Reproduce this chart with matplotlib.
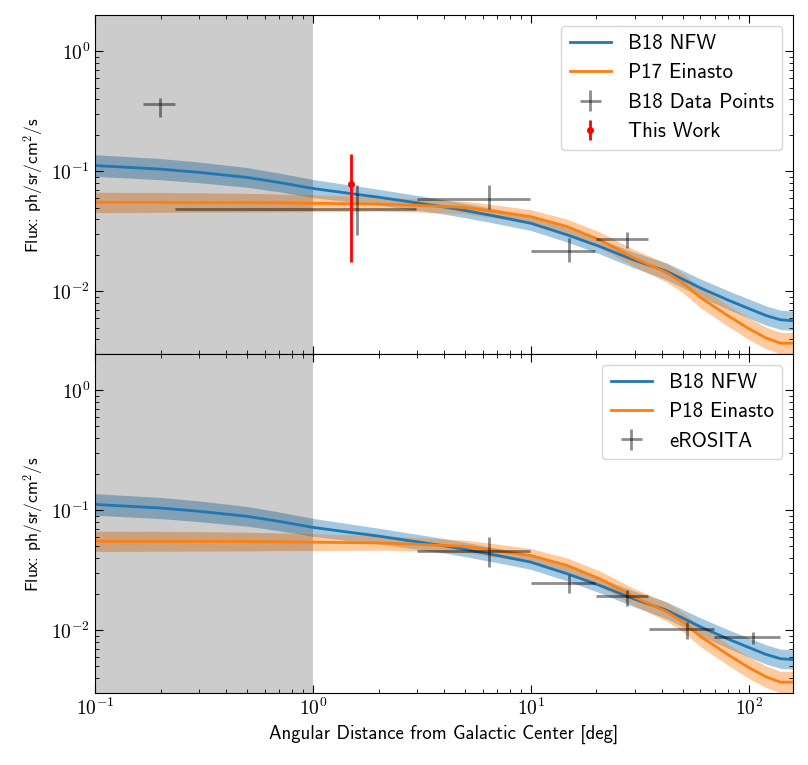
import numpy as np
import matplotlib
matplotlib.use("Agg")
import matplotlib.pyplot as plt
from matplotlib.ticker import FuncFormatter, NullFormatter

plt.rcParams['font.family'] = ['cmss10', 'DejaVu Sans']
plt.rcParams['mathtext.fontset'] = 'cm'

# model curves
x_mod = [0.1, 0.2, 0.3, 0.5, 0.7, 1.0, 1.5, 2.0, 3.0, 4.0, 5.0, 7.2, 10.0, 14.6,
         20.7, 29.4, 42.0, 50.0, 60.0, 80.0, 100.0, 120.0, 140.0, 160.0]
nfw = [0.112, 0.1045, 0.0982, 0.0891, 0.0809, 0.0721, 0.0653, 0.061, 0.0547, 0.0506, 0.0472, 0.0417,
       0.037, 0.0297, 0.0237, 0.0184, 0.0147, 0.0126, 0.0107, 0.0085, 0.0072, 0.0063, 0.0058, 0.0057]
nfw_w = [0.09, 0.088, 0.086, 0.082, 0.078, 0.075, 0.07, 0.066, 0.062, 0.06, 0.06, 0.06,
         0.06, 0.06, 0.062, 0.065, 0.07, 0.072, 0.075, 0.078, 0.08, 0.08, 0.08, 0.08]
ein = [0.0552, 0.0552, 0.0551, 0.0549, 0.0547, 0.0543, 0.0538, 0.0535, 0.0521, 0.051, 0.0501, 0.0458,
       0.042, 0.0348, 0.0269, 0.0192, 0.0143, 0.0117, 0.0089, 0.0063, 0.0049, 0.0041, 0.0037, 0.0037]
ein_w = [0.085, 0.083, 0.081, 0.078, 0.074, 0.07, 0.065, 0.06, 0.055, 0.053, 0.052, 0.055,
         0.058, 0.062, 0.066, 0.07, 0.078, 0.08, 0.085, 0.088, 0.09, 0.09, 0.09, 0.09]

# B18 data points
b18_x = [0.199, 1.60, 6.42, 14.9, 27.5]
b18_xlo = [0.166, 0.233, 2.99, 10.0, 19.9]
b18_xhi = [0.233, 2.97, 9.9, 19.8, 34.6]
b18_y = [0.364, 0.049, 0.0588, 0.0216, 0.0273]
b18_ylo = [0.284, 0.0293, 0.049, 0.0176, 0.0229]
b18_yhi = [0.408, 0.0774, 0.0774, 0.0281, 0.031]

# this work
tw_x = [1.49]
tw_y = [0.0789]
tw_ylo = [0.0175]
tw_yhi = [0.139]

# eROSITA points
ero_x = [6.42, 14.9, 27.5, 52.1, 104.7]
ero_xlo = [3.0, 10.0, 19.9, 34.9, 69.3]
ero_xhi = [9.9, 19.8, 34.6, 69.3, 138.7]
ero_y = [0.0462, 0.0248, 0.0192, 0.01026, 0.00874]
ero_ylo = [0.0335, 0.0205, 0.0161, 0.00847, 0.0077]
ero_yhi = [0.0596, 0.0289, 0.0215, 0.0118, 0.00976]


def err(v, lo, hi):
    v = np.array(v)
    return [v - np.array(lo), np.array(hi) - v]


def pow10(v, pos):
    return r'$10^{%d}$' % int(round(np.log10(v)))


fig, axes = plt.subplots(2, 1, figsize=(8.08, 7.65), dpi=100, sharex=True)
fig.subplots_adjust(left=0.1176, right=0.981, top=0.980, bottom=0.094, hspace=0)

xm = np.array(x_mod)
for i, ax in enumerate(axes):
    ax.axvspan(0.1, 1.0, color='k', alpha=0.2, lw=0, zorder=1.5)
    for y, w, c, lab in [(nfw, nfw_w, 'tab:blue', 'B18 NFW'),
                         (ein, ein_w, 'tab:orange', 'P17 Einasto' if i == 0 else 'P18 Einasto')]:
        y = np.array(y)
        w = np.array(w)
        ax.fill_between(xm, y * 10**(-w), y * 10**w, color=c, alpha=0.4, lw=0, zorder=1)
        ax.plot(xm, y, color=c, lw=2, label=lab, zorder=2)

    if i == 0:
        ax.errorbar(b18_x, b18_y, xerr=err(b18_x, b18_xlo, b18_xhi), yerr=err(b18_y, b18_ylo, b18_yhi),
                    fmt='none', ecolor='k', alpha=0.45, elinewidth=2, label='B18 Data Points', zorder=3)
        ax.errorbar(tw_x, tw_y, yerr=err(tw_y, tw_ylo, tw_yhi), fmt='o', color='red', ms=4,
                    elinewidth=2, label='This Work', zorder=4)
    else:
        ax.errorbar(ero_x, ero_y, xerr=err(ero_x, ero_xlo, ero_xhi), yerr=err(ero_y, ero_ylo, ero_yhi),
                    fmt='none', ecolor='k', alpha=0.45, elinewidth=2, label='eROSITA', zorder=3)

    ax.set_xscale('log')
    ax.set_yscale('log')
    ax.set_xlim(0.1, 159)
    ax.set_ylim(3e-3, 2)
    for axis in (ax.xaxis, ax.yaxis):
        axis.set_major_formatter(FuncFormatter(pow10))
        axis.set_minor_formatter(NullFormatter())
    ax.set_ylabel(r'Flux: ph/sr/cm$^\mathsf{2}$/s', fontsize=12.5)
    ax.tick_params(which='both', direction='in', top=True, right=True, labelsize=14)
    ax.tick_params(which='major', length=6)
    ax.tick_params(which='minor', length=3)
    ax.legend(loc='upper right', fontsize=15)

axes[1].set_xlabel('Angular Distance from Galactic Center [deg]', fontsize=13.5)

fig.savefig('out.png')
